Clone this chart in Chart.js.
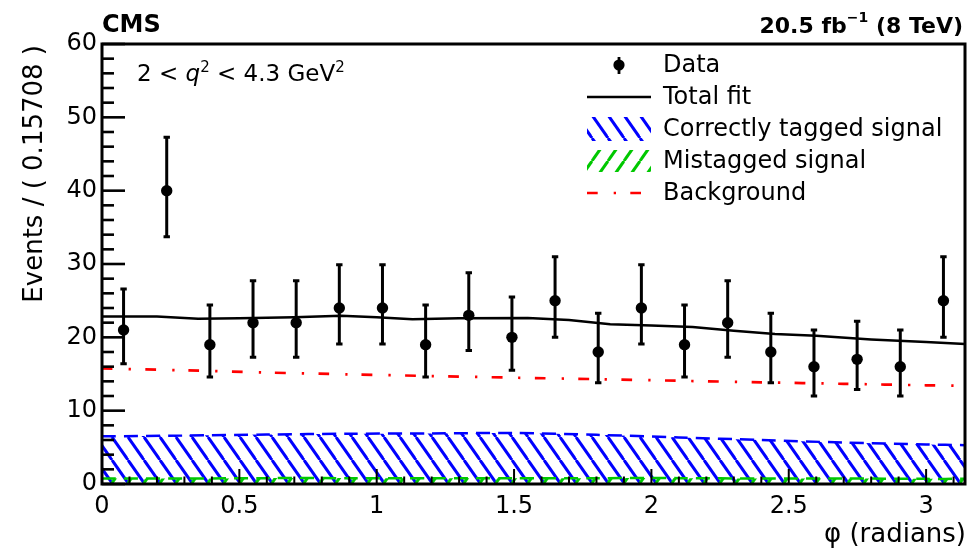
<!DOCTYPE html>
<html>
<head>
<meta charset="utf-8">
<script src="https://cdn.jsdelivr.net/npm/chart.js@4.4.1/dist/chart.umd.min.js"></script>
<style>
  html, body { margin: 0; padding: 0; background: #fff; }
  #wrap { width: 973px; height: 550px; }
</style>
</head>
<body>
<div id="wrap"><canvas id="phiChart" width="973" height="550"></canvas></div>
<script>
'use strict';

// phi histogram: 20 bins of width 0.15708 between 0 and pi
const binPhi = [0.0785, 0.2356, 0.3927, 0.5498, 0.7069, 0.8639, 1.0210, 1.1781, 1.3352, 1.4923,
  1.6493, 1.8064, 1.9635, 2.1206, 2.2777, 2.4347, 2.5918, 2.7489, 2.9060, 3.0631];
const dataCounts = [21, 40, 19, 22, 22, 24, 24, 19, 23, 20, 25, 18, 24, 19, 22, 18, 16, 17, 16, 25];
// poisson interval edges for each bin
const errLow = [16.4, 33.7, 14.6, 17.3, 17.3, 19.1, 19.1, 14.6, 18.2, 15.5,
  20.0, 13.8, 19.1, 14.6, 17.3, 13.8, 12.0, 12.9, 12.0, 20.0];
const errHigh = [26.6, 47.3, 24.4, 27.7, 27.7, 29.9, 29.9, 24.4, 28.8, 25.5,
  31.0, 23.3, 29.9, 24.4, 27.7, 23.3, 21.0, 22.2, 21.0, 31.0];

// total fit projection
const fitPhi = [0, 0.2, 0.35, 0.5, 0.7, 0.87, 1.0, 1.13, 1.3, 1.55, 1.7, 1.85, 2.0, 2.15, 2.3, 2.45, 2.6, 2.8, 3.0, 3.1416];
const fitVal = [22.85, 22.85, 22.55, 22.6, 22.75, 22.95, 22.75, 22.45, 22.6, 22.65, 22.35, 21.8, 21.6, 21.4,
  20.9, 20.45, 20.2, 19.7, 19.35, 19.1];

// fit components
const compPhi = [0, 0.3, 0.6, 0.9, 1.2, 1.5, 1.8, 2.1, 2.4, 2.7, 3.0, 3.1416];
const sigVal = [6.5, 6.6, 6.75, 6.85, 6.9, 6.95, 6.7, 6.35, 6.0, 5.65, 5.4, 5.3];
const mistagVal = [0.75, 0.75, 0.8, 0.8, 0.8, 0.8, 0.8, 0.8, 0.75, 0.75, 0.7, 0.7];
const bkgVal = [15.75, 15.5, 15.2, 14.95, 14.72, 14.5, 14.3, 14.08, 13.87, 13.66, 13.46, 13.38];

const xTickValues = [0, 0.5, 1, 1.5, 2, 2.5, 3];
const yTickValues = [0, 10, 20, 30, 40, 50, 60];

const FONT = "'DejaVu Sans', sans-serif";
const canvas = document.getElementById('phiChart');
const ctx0 = canvas.getContext('2d');

const hatch = (color, forward) => {
  const w = 16, h = 23;
  const c = document.createElement('canvas');
  c.width = w;
  c.height = h;
  const g = c.getContext('2d');
  g.strokeStyle = color;
  g.lineWidth = 3;
  for (let k = -1; k <= 1; k++) {
    g.beginPath();
    if (forward) {
      g.moveTo(k * w, h);
      g.lineTo(k * w + w, 0);
    } else {
      g.moveTo(k * w, 0);
      g.lineTo(k * w + w, h);
    }
    g.stroke();
  }
  return ctx0.createPattern(c, 'repeat');
};
const blueHatch = hatch('#0000ff', false);
const greenHatch = hatch('#00c800', true);

const pts = (xs, ys) => xs.map((v, i) => ({x: v, y: ys[i]}));
const bkgDash = [10.7, 16, 2.3, 14.3];

// vertical error bars on data points
const errorBars = {
  id: 'errorBars',
  afterDatasetsDraw(chart) {
    const {ctx, scales: {x, y}} = chart;
    ctx.save();
    ctx.strokeStyle = '#000';
    ctx.lineWidth = 3;
    binPhi.forEach((p, i) => {
      const px = x.getPixelForValue(p);
      const top = y.getPixelForValue(errHigh[i]);
      const bot = y.getPixelForValue(errLow[i]);
      ctx.beginPath();
      ctx.moveTo(px, top);
      ctx.lineTo(px, bot);
      ctx.moveTo(px - 3.2, top);
      ctx.lineTo(px + 3.2, top);
      ctx.moveTo(px - 3.2, bot);
      ctx.lineTo(px + 3.2, bot);
      ctx.stroke();
    });
    ctx.restore();
  },
};

// frame, inward ticks, titles and legend
const decorations = {
  id: 'decorations',
  afterDraw(chart) {
    const {ctx, chartArea: a, scales: {x, y}} = chart;
    ctx.save();
    ctx.strokeStyle = '#000';
    ctx.fillStyle = '#000';

    ctx.lineWidth = 2.6;
    for (let v = 0; v <= 60; v += 2) {
      const py = y.getPixelForValue(v);
      const len = v % 10 === 0 ? 23 : 12;
      ctx.beginPath();
      ctx.moveTo(a.left, py);
      ctx.lineTo(a.left + len, py);
      ctx.stroke();
    }
    ctx.lineWidth = 2;
    for (let k = 0; k <= 31; k++) {
      const px = x.getPixelForValue(k / 10);
      const len = k % 5 === 0 ? 15 : 7.5;
      ctx.beginPath();
      ctx.moveTo(px, a.bottom);
      ctx.lineTo(px, a.bottom - len);
      ctx.stroke();
    }
    ctx.lineWidth = 3;
    ctx.strokeRect(a.left, a.top, a.right - a.left, a.bottom - a.top);

    // axis titles
    ctx.font = `26px ${FONT}`;
    ctx.textAlign = 'right';
    ctx.textBaseline = 'alphabetic';
    ctx.fillText('φ (radians)', a.right + 1, 542);
    ctx.save();
    ctx.translate(42, a.top + 1);
    ctx.rotate(-Math.PI / 2);
    ctx.fillText('Events / ( 0.15708 )', 0, 0);
    ctx.restore();

    // header
    ctx.font = `bold 24px ${FONT}`;
    ctx.textAlign = 'left';
    ctx.fillText('CMS', a.left, 32);
    ctx.textAlign = 'right';
    const right = 963;
    ctx.font = `bold 22px ${FONT}`;
    ctx.fillText(' (8 TeV)', right, 33);
    let w = ctx.measureText(' (8 TeV)').width;
    ctx.font = `bold 14px ${FONT}`;
    ctx.fillText('−1', right - w, 22);
    w += ctx.measureText('−1').width;
    ctx.font = `bold 22px ${FONT}`;
    ctx.fillText('20.5 fb', right - w, 33);

    // q^2 bin label
    ctx.textAlign = 'left';
    let cx = 137;
    const base = 80.5;
    const put = (txt, font, dy) => {
      ctx.font = font;
      ctx.fillText(txt, cx, base + dy);
      cx += ctx.measureText(txt).width;
    };
    put('2 < ', `23px ${FONT}`, 0);
    put('q', `italic 23px ${FONT}`, 0);
    put('2', `15px ${FONT}`, -9);
    put(' < 4.3 GeV', `23px ${FONT}`, 0);
    put('2', `15px ${FONT}`, -9);

    // legend
    const lx0 = 587, lx1 = 651, tx = 663;
    const rows = [65, 97, 129, 161, 193];
    ctx.font = `24px ${FONT}`;
    ctx.textBaseline = 'middle';
    ['Data', 'Total fit', 'Correctly tagged signal', 'Mistagged signal', 'Background']
      .forEach((t, i) => ctx.fillText(t, tx, rows[i] + 1));

    ctx.lineWidth = 2.8;
    ctx.beginPath();
    ctx.moveTo(619, rows[0] - 8);
    ctx.lineTo(619, rows[0] + 9);
    ctx.stroke();
    ctx.beginPath();
    ctx.arc(619, rows[0], 5.6, 0, Math.PI * 2);
    ctx.fill();

    ctx.lineWidth = 2.5;
    ctx.beginPath();
    ctx.moveTo(lx0, rows[1]);
    ctx.lineTo(lx1, rows[1]);
    ctx.stroke();

    ctx.fillStyle = blueHatch;
    ctx.fillRect(lx0, rows[2] - 12, lx1 - lx0, 24);
    ctx.fillStyle = greenHatch;
    ctx.fillRect(lx0, rows[3] - 11, lx1 - lx0, 22);

    ctx.strokeStyle = '#ff0000';
    ctx.lineWidth = 2.7;
    ctx.setLineDash(bkgDash);
    ctx.beginPath();
    ctx.moveTo(lx0, rows[4]);
    ctx.lineTo(lx1, rows[4]);
    ctx.stroke();
    ctx.restore();
  },
};

const chart = new Chart(canvas, {
  type: 'line',
  data: {
    datasets: [
      {
        label: 'Data',
        data: pts(binPhi, dataCounts),
        showLine: false,
        pointRadius: 5.7,
        pointBackgroundColor: '#000',
        pointBorderWidth: 0,
        order: 0,
      },
      {
        label: 'Total fit',
        data: pts(fitPhi, fitVal),
        borderColor: '#000',
        borderWidth: 2.5,
        pointRadius: 0,
        tension: 0,
        order: 1,
      },
      {
        label: 'Background',
        data: pts(compPhi, bkgVal),
        borderColor: '#ff0000',
        borderWidth: 2.7,
        borderDash: bkgDash,
        borderCapStyle: 'butt',
        pointRadius: 0,
        tension: 0.3,
        order: 2,
      },
      {
        label: 'Mistagged signal',
        data: pts(compPhi, mistagVal),
        borderColor: '#00c800',
        backgroundColor: greenHatch,
        borderWidth: 2.5,
        borderDash: [14, 8],
        fill: 'origin',
        pointRadius: 0,
        tension: 0.3,
        order: 3,
      },
      {
        label: 'Correctly tagged signal',
        data: pts(compPhi, sigVal),
        borderColor: '#0000ff',
        backgroundColor: blueHatch,
        borderWidth: 2.5,
        borderDash: [14, 8],
        fill: 'origin',
        pointRadius: 0,
        tension: 0.3,
        order: 4,
      },
    ],
  },
  options: {
    responsive: false,
    animation: false,
    events: [],
    layout: {padding: {top: 44, right: 8, left: 0, bottom: 0}},
    plugins: {
      legend: {display: false},
      tooltip: {enabled: false},
    },
    scales: {
      x: {
        type: 'linear',
        min: 0,
        max: Math.PI,
        afterBuildTicks: (s) => { s.ticks = xTickValues.map((v) => ({value: v})); },
        afterFit: (s) => { s.height = 66; },
        ticks: {
          padding: 8,
          maxRotation: 0,
          autoSkip: false,
          color: '#000',
          font: {family: FONT, size: 24},
          callback: (v) => String(v),
        },
        grid: {display: false, drawTicks: false},
        border: {display: false},
      },
      y: {
        type: 'linear',
        min: 0,
        max: 60,
        afterBuildTicks: (s) => { s.ticks = yTickValues.map((v) => ({value: v})); },
        afterFit: (s) => { s.width = 102; },
        ticks: {
          padding: 5,
          color: '#000',
          font: {family: FONT, size: 24},
          callback: (v) => String(v),
        },
        grid: {display: false, drawTicks: false},
        border: {display: false},
      },
    },
  },
  plugins: [errorBars, decorations],
});
</script>
</body>
</html>
